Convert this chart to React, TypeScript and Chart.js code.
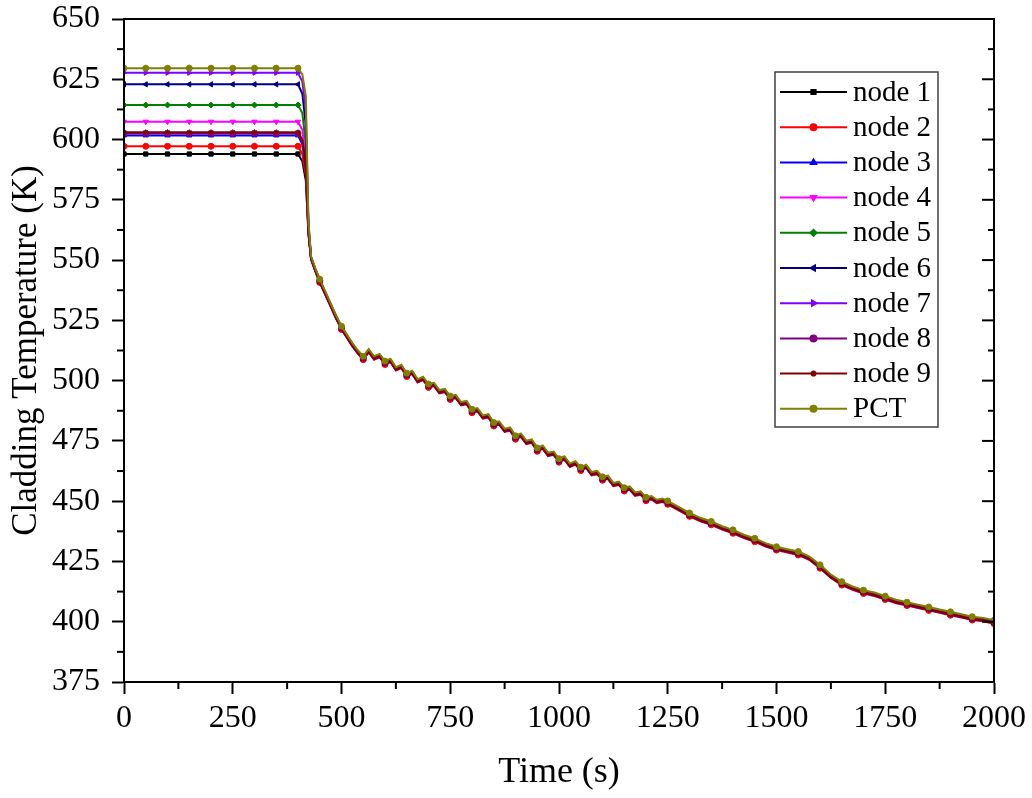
import React, { useEffect, useRef } from "react";
import { Chart, registerables } from "chart.js";
import { drawPoint } from "chart.js/helpers";

Chart.register(...registerables);

const SERIES_NAMES = ["node 1", "node 2", "node 3", "node 4", "node 5", "node 6", "node 7", "node 8", "node 9", "PCT"];
const SERIES_COLORS = ["#000000", "#FF0000", "#0000FF", "#FF00FF", "#008000", "#000080", "#8000FF", "#800080", "#800000", "#808000"];
const MARKER_STYLES = ["rect", "circle", "triangle", "triangle", "rectRot", "triangle", "triangle", "circle", "star", "circle"];
const MARKER_ROTATION = [0, 0, 0, 180, 0, -90, 90, 0, 0, 0];

// steady-state plateau (0..400 s)
const PLATEAU_TIME = [0, 50, 100, 150, 200, 250, 300, 350, 400];
const PLATEAU_TEMP = [594.0, 597.2, 601.7, 607.4, 614.3, 622.9, 627.7, 602.5, 603.0, 629.6];

// fast transient right after 400 s
const DROP_TIME = [410, 418, 424];
const DROP_TEMP = [
  [591, 583, 561],
  [594, 585, 561],
  [598, 588, 562],
  [604, 592, 563],
  [611, 598, 564],
  [619, 606, 564],
  [624, 612, 565],
  [599, 589, 562],
  [600, 590, 562],
  [627, 618, 566],
];

// cooldown (shared band)
const COOL_TIME = [
  430, 440, 450, 462.5, 475, 487.5, 500, 512.5, 525, 537.5,
  550, 562.5, 575, 587.5, 600, 612.5, 625, 637.5, 650, 662.5,
  675, 687.5, 700, 712.5, 725, 737.5, 750, 762.5, 775, 787.5,
  800, 812.5, 825, 837.5, 850, 862.5, 875, 887.5, 900, 912.5,
  925, 937.5, 950, 962.5, 975, 987.5, 1000, 1012.5, 1025, 1037.5,
  1050, 1062.5, 1075, 1087.5, 1100, 1112.5, 1125, 1137.5, 1150, 1162.5,
  1175, 1187.5, 1200, 1212.5, 1225, 1237.5, 1250, 1275, 1300, 1325,
  1350, 1375, 1400, 1425, 1450, 1475, 1500, 1525, 1550, 1575,
  1600, 1625, 1650, 1675, 1700, 1725, 1750, 1775, 1800, 1825,
  1850, 1875, 1900, 1925, 1950, 1975, 2000,
];
const COOL_TEMP = [
  551, 546, 541.5, 536.5, 531.5, 526.5, 522, 518.5, 515, 512,
  509.5, 512.5, 509.5, 510.5, 507.5, 508.5, 505, 506, 502.5, 503.5,
  500, 501, 498, 498.5, 495.5, 496, 493, 493.5, 490.5, 491,
  487.5, 488, 485, 485.5, 482, 482.5, 479.5, 480, 476.5, 477.5,
  474.5, 475, 471.5, 472.5, 469.5, 470, 467, 468, 465, 466,
  463.5, 464.5, 461.5, 462, 459.5, 460, 457, 457.5, 455, 455.5,
  453, 453.5, 451, 451.5, 450, 450.5, 449.5, 447, 444.5, 442.5,
  441, 439, 437.5, 435.5, 434, 432, 430.5, 429.5, 428.5, 426.5,
  423, 419, 416, 414, 412.5, 411.5, 410, 408.5, 407.5, 406.5,
  405.5, 404.5, 403.5, 402.5, 401.5, 401, 400,
];
// per-series spread inside the band
const COOL_SHIFT = [-0.6, -0.8, -0.5, -0.2, 0.0, 0.1, 0.3, -0.1, -0.4, 0.6];

const X_MINOR = [125, 375, 625, 875, 1125, 1375, 1625, 1875];
const Y_MAJOR = [375, 400, 425, 450, 475, 500, 525, 550, 575, 600, 625, 650];
const Y_MINOR = [387.5, 412.5, 437.5, 462.5, 487.5, 512.5, 537.5, 562.5, 587.5, 612.5, 637.5];

const SERIF = "'Liberation Serif', 'Times New Roman', serif";

function buildData(i: number) {
  const pts: { x: number; y: number }[] = [];
  PLATEAU_TIME.forEach((t) => pts.push({ x: t, y: PLATEAU_TEMP[i] }));
  DROP_TIME.forEach((t, k) => pts.push({ x: t, y: DROP_TEMP[i][k] }));
  COOL_TIME.forEach((t, k) => pts.push({ x: t, y: COOL_TEMP[k] + COOL_SHIFT[i] }));
  return pts;
}

const framePlugin = {
  id: "frameTicks",
  afterDraw(chart: any) {
    const { ctx, chartArea: a, scales } = chart;
    const x = scales.x;
    const y = scales.y;
    ctx.save();
    ctx.strokeStyle = "#000";
    ctx.lineWidth = 2;
    ctx.strokeRect(a.left, a.top, a.right - a.left, a.bottom - a.top);
    const line = (x1: number, y1: number, x2: number, y2: number) => {
      ctx.beginPath();
      ctx.moveTo(x1, y1);
      ctx.lineTo(x2, y2);
      ctx.stroke();
    };
    X_MINOR.forEach((v) => {
      const px = x.getPixelForValue(v);
      line(px, a.bottom, px, a.bottom + 7);
    });
    Y_MINOR.forEach((v) => {
      const py = y.getPixelForValue(v);
      line(a.left - 7, py, a.left, py);
      line(a.right, py, a.right - 6, py);
    });
    Y_MAJOR.forEach((v) => {
      const py = y.getPixelForValue(v);
      line(a.right, py, a.right - 12, py);
    });
    ctx.restore();
  },
};

const legendPlugin = {
  id: "insideLegend",
  afterDraw(chart: any) {
    const { ctx } = chart;
    const left = 775;
    const top = 72;
    const w = 163;
    const h = 355;
    const rowH = 35.2;
    ctx.save();
    ctx.fillStyle = "#ffffff";
    ctx.fillRect(left, top, w, h);
    ctx.strokeStyle = "#404040";
    ctx.lineWidth = 1.5;
    ctx.strokeRect(left, top, w, h);
    chart.data.datasets.forEach((ds: any, i: number) => {
      const cy = top + 20 + i * rowH;
      ctx.strokeStyle = ds.borderColor;
      ctx.lineWidth = 2;
      ctx.beginPath();
      ctx.moveTo(left + 5, cy);
      ctx.lineTo(left + 72, cy);
      ctx.stroke();
      ctx.fillStyle = ds.borderColor;
      drawPoint(ctx, { pointStyle: ds.pointStyle, rotation: ds.pointRotation, radius: 3, borderWidth: 1 }, left + 38.5, cy);
      ctx.fillStyle = "#000";
      ctx.font = `29px ${SERIF}`;
      ctx.textBaseline = "middle";
      ctx.textAlign = "left";
      ctx.fillText(SERIES_NAMES[i], left + 78, cy + 1);
    });
    ctx.restore();
  },
};

export default function App() {
  const canvasRef = useRef<HTMLCanvasElement | null>(null);

  useEffect(() => {
    document.body.style.margin = "0";
    const canvas = canvasRef.current;
    if (!canvas) return;
    const datasets = SERIES_NAMES.map((name, i) => ({
      label: name,
      data: buildData(i),
      borderColor: SERIES_COLORS[i],
      backgroundColor: SERIES_COLORS[i],
      borderWidth: 2,
      pointStyle: MARKER_STYLES[i],
      pointRotation: MARKER_ROTATION[i],
      pointBackgroundColor: SERIES_COLORS[i],
      pointBorderColor: SERIES_COLORS[i],
      pointBorderWidth: 1,
      pointRadius: (c: any) => (c.raw && c.raw.x % 50 === 0 ? 3 : 0),
      fill: false,
      tension: 0,
      order: i === 9 ? 0 : 10 - i,
    }));

    const chart = new Chart(canvas, {
      type: "line",
      data: { datasets },
      options: {
        animation: false,
        responsive: false,
        maintainAspectRatio: false,
        layout: { padding: { left: 0, right: 38, top: 19, bottom: 0 } },
        plugins: {
          legend: { display: false },
          tooltip: { enabled: false },
        },
        scales: {
          x: {
            type: "linear",
            min: 0,
            max: 2000,
            afterFit: (s: any) => {
              s.height = 116;
              s.paddingLeft = 0;
              s.paddingRight = 0;
            },
            ticks: {
              stepSize: 250,
              color: "#000",
              font: { family: SERIF, size: 32 },
              padding: 5,
              maxRotation: 0,
              callback: (v: any) => String(v),
            },
            grid: {
              drawOnChartArea: false,
              drawTicks: true,
              tickLength: 12,
              tickColor: "#000",
              tickWidth: 2,
            },
            border: { display: true, color: "#000", width: 2 },
            title: {
              display: true,
              text: "Time (s)",
              color: "#000",
              font: { family: SERIF, size: 36 },
              padding: { top: 0, bottom: 4 },
            },
          },
          y: {
            type: "linear",
            min: 375,
            max: 650,
            afterFit: (s: any) => {
              s.width = 124;
              s.paddingTop = 0;
              s.paddingBottom = 0;
            },
            ticks: {
              stepSize: 25,
              color: "#000",
              font: { family: SERIF, size: 32 },
              padding: 12,
              callback: (v: any) => String(v),
            },
            grid: {
              drawOnChartArea: false,
              drawTicks: true,
              tickLength: 12,
              tickColor: "#000",
              tickWidth: 2,
            },
            border: { display: true, color: "#000", width: 2 },
            title: {
              display: true,
              text: "Cladding Temperature (K)",
              color: "#000",
              font: { family: SERIF, size: 35 },
              padding: { top: 6, bottom: 0 },
            },
          },
        },
      },
      plugins: [framePlugin, legendPlugin],
    } as any);

    return () => chart.destroy();
  }, []);

  return (
    <div style={{ width: 1032, height: 798 }}>
      <canvas ref={canvasRef} width={1032} height={798} style={{ display: "block", width: 1032, height: 798 }} />
    </div>
  );
}
